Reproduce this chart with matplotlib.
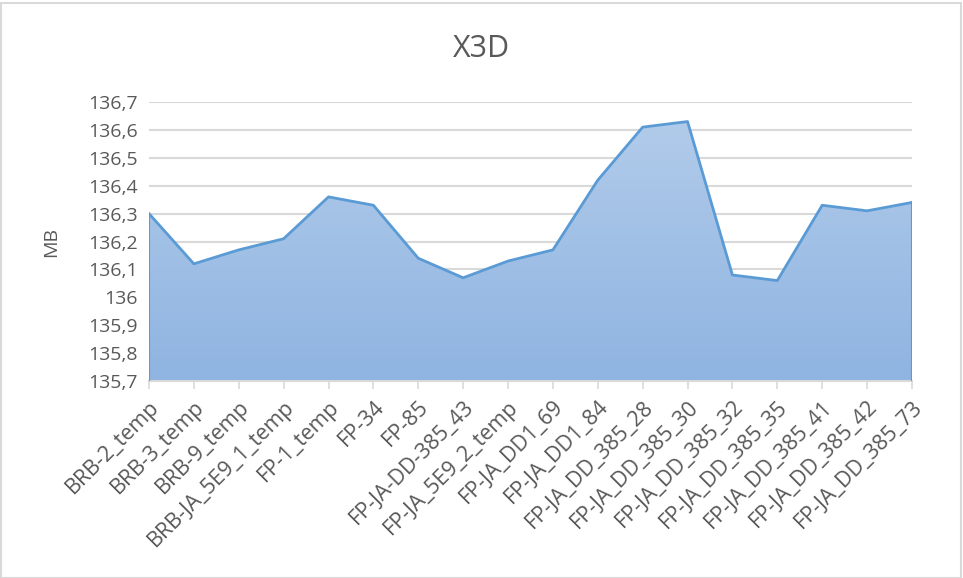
import matplotlib.pyplot as plt
import numpy as np
from matplotlib.patches import Rectangle
from matplotlib.colors import LinearSegmentedColormap

categories = ["BRB-2_temp", "BRB-3_temp", "BRB-9_temp", "BRB-JA_5E9_1_temp",
              "FP-1_temp", "FP-34", "FP-85", "FP-JA-DD-385_43",
              "FP-JA_5E9_2_temp", "FP-JA_DD1_69", "FP-JA_DD1_84",
              "FP-JA_DD_385_28", "FP-JA_DD_385_30", "FP-JA_DD_385_32",
              "FP-JA_DD_385_35", "FP-JA_DD_385_41", "FP-JA_DD_385_42",
              "FP-JA_DD_385_73"]
mb = [136.30, 136.12, 136.17, 136.21, 136.36, 136.33, 136.14, 136.07,
      136.13, 136.17, 136.42, 136.61, 136.63, 136.08, 136.06, 136.33,
      136.31, 136.34]
y_ticks = [135.7, 135.8, 135.9, 136.0, 136.1, 136.2, 136.3, 136.4, 136.5, 136.6, 136.7]

plt.rcParams['font.family'] = ['Open Sans', 'DejaVu Sans']
grey = '#595959'

fig = plt.figure(figsize=(9.63, 5.78), dpi=100)
ax = fig.add_axes([0.1547, 0.3408, 0.7923, 0.4827])

x = np.arange(len(mb))
ymin, ymax = 135.7, 136.7

# gradient fill clipped to the area shape
poly = ax.fill_between(x, mb, ymin, facecolor='none', edgecolor='none')
grad = np.linspace(0, 1, 256).reshape(-1, 1)
cmap = LinearSegmentedColormap.from_list('g', ['#8fb4e1', '#b1cbea'])
img = ax.imshow(grad, cmap=cmap, aspect='auto', origin='lower',
                extent=[x[0], x[-1], ymin, max(mb)], zorder=2)
img.set_clip_path(poly.get_paths()[0], transform=ax.transData)

ax.plot(x, mb, color='#5b9bd5', lw=2, zorder=3)
ax.plot([x[0], x[0]], [ymin, mb[0]], color='#5b9bd5', lw=1.5, zorder=3)
ax.plot([x[-1], x[-1]], [ymin, mb[-1]], color='#5b9bd5', lw=1.5, zorder=3)

ax.set_xlim(x[0], x[-1])
ax.set_ylim(ymin, ymax)
ax.set_yticks(y_ticks)
ax.set_yticklabels([('%g' % v).replace('.', ',') for v in y_ticks])
ax.set_xticks(x)
ax.set_xticklabels(categories, rotation=45, ha='right', rotation_mode='anchor')
ax.grid(axis='y', color='#d9d9d9', lw=1.5, zorder=0)
ax.set_axisbelow(True)
for s in ['top', 'right', 'left']:
    ax.spines[s].set_visible(False)
ax.spines['bottom'].set_color('#d9d9d9')
ax.spines['bottom'].set_linewidth(1.5)
ax.tick_params(axis='y', length=0, pad=8, labelsize=14, labelcolor=grey)
ax.tick_params(axis='x', length=6, width=1.2, color='#d9d9d9', pad=5,
               labelsize=15.5, labelcolor=grey)

ax.set_ylabel("MB", fontsize=14, color=grey, labelpad=20)
fig.text(0.5, 0.915, "X3D", ha='center', va='center', fontsize=22, color=grey)

fig.patches.append(Rectangle((0.001, 0.0), 0.997, 0.994, transform=fig.transFigure,
                             fill=False, edgecolor='#d9d9d9', lw=1.5))

plt.savefig('out.png', dpi=100)
